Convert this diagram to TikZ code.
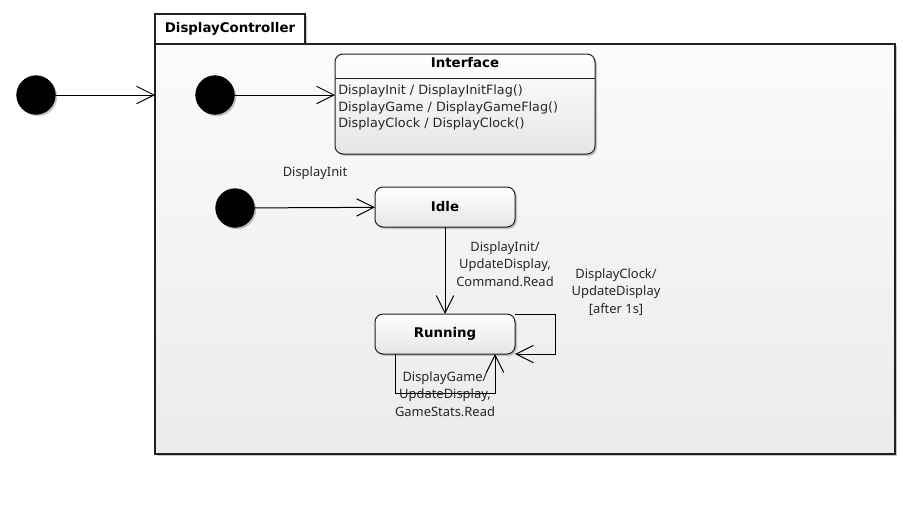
\documentclass[tikz,border=0pt]{standalone}
\usepackage{fontspec}
\setmainfont{Noto Sans}
\newfontfamily\vfont{DejaVu Sans}
\usetikzlibrary{arrows.meta,shadows,calc}

\definecolor{edge}{HTML}{202020}
\definecolor{txt}{HTML}{262626}
\definecolor{pkgtop}{HTML}{FBFBFB}
\definecolor{pkgbot}{HTML}{EBEBEB}
\definecolor{statebot}{HTML}{E6E6E6}

\tikzset{
  softshadow/.style={drop shadow={shadow xshift=1.4pt, shadow yshift=-1.4pt, opacity=0.22, fill=black}},
  titlefont/.style={font=\vfont\bfseries\fontsize{10}{12}\selectfont},
  pkgtab/.style={draw=edge, line width=0.8pt, fill=white, inner sep=0pt, outer sep=0pt,
    minimum width=112.5pt, minimum height=22.5pt, titlefont, softshadow},
  pkgbody/.style={draw=edge, line width=0.8pt, top color=pkgtop, bottom color=pkgbot,
    inner sep=0pt, outer sep=0pt, minimum width=555pt, minimum height=307.5pt, softshadow},
  statebox/.style={draw=edge, line width=0.75pt, rounded corners=6pt, top color=white,
    bottom color=statebot, inner sep=0pt, outer sep=0pt, minimum width=105pt,
    minimum height=30pt, titlefont, softshadow},
  initial/.style={circle, fill=black, draw=black, minimum size=29pt, inner sep=0pt,
    outer sep=0pt, softshadow},
  trans/.style={draw=black, line width=0.75pt, -{Straight Barb[length=13pt,width=13pt,line width=0.75pt]}},
  lbl/.style={font=\fontsize{9.7}{12.9}\selectfont, text=txt, align=center, inner sep=0pt},
  ifline/.style={font=\vfont\fontsize{9.6}{12}\selectfont, text=txt, anchor=base west, inner sep=0pt},
}

\begin{document}
\begin{tikzpicture}[x=0.75pt, y=-0.75pt]
  \fill[white] (0,0) rectangle (910,518);
  \useasboundingbox (0,0) rectangle (910,518);

  % package frame with its name tab
  \node[pkgtab] (tab) at (230,29) {DisplayController};
  \node[pkgbody] (pkg) at (525,249) {};

  % initial pseudo-states
  \node[initial] (init0) at (36,95) {};
  \node[initial] (init1) at (215,95) {};
  \node[initial] (init2) at (235,208) {};

  % Interface state with its internal transitions
  \node[statebox, minimum width=195pt, minimum height=75pt] (iface) at (465,104) {};
  \node[titlefont, inner sep=0pt] (iftitle) at (465,63) {Interface};
  \coordinate (sepy) at (0,78);
  \draw[edge, line width=0.75pt] (iface.west |- sepy) -- (iface.east |- sepy);
  \node[ifline] (ifl1) at (338,94.5) {DisplayInit / DisplayInitFlag()};
  \node[ifline] (ifl2) at (338,111) {DisplayGame / DisplayGameFlag()};
  \node[ifline] (ifl3) at (338,127.5) {DisplayClock / DisplayClock()};

  % Idle and Running states
  \node[statebox] (idle) at (445,207) {Idle};
  \node[statebox] (running) at (445,334) {Running};

  % transitions
  \draw[trans] (init0) -- (init0 -| pkg.west);
  \draw[trans] (init1) -- (init1 -| iface.west);
  \draw[trans] (init2) -- (idle);
  \draw[trans] (idle) -- (running);
  \draw[trans] (running.north east) -- ++(40,0) |- (running.south east);
  \draw[trans] ($(running.south)+(-50,0)$) -- ++(0,39) -| ($(running.south)+(50,0)$);

  % transition labels
  \node[lbl] (lInit) at (315,173) {DisplayInit};
  \node[lbl] (lRun) at (505,264) {DisplayInit/\\UpdateDisplay,\\Command.Read};
  \node[lbl] (lClock) at (616,292) {DisplayClock/\\UpdateDisplay\\[0pt][after 1s]};
  \node[lbl] (lGame) at (445,394) {DisplayGame/\\UpdateDisplay,\\GameStats.Read};
\end{tikzpicture}
\end{document}
